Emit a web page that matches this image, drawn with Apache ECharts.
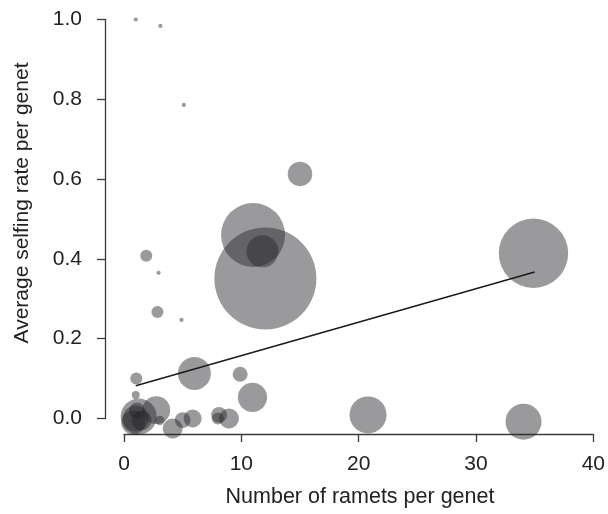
<!DOCTYPE html>
<html>
<head>
<meta charset="utf-8">
<script src="https://cdn.jsdelivr.net/npm/echarts@6/dist/echarts.min.js"></script>
<style>html,body{margin:0;padding:0;background:#fff}#c{width:608px;height:514px}</style>
</head>
<body>
<div id="c"></div>
<script>
// Number of ramets per genet
const xs = [1, 3.1, 5.1, 1.9, 2.95, 2.85, 4.9, 15.0, 11.0, 11.8, 12.05, 34.9, 20.8, 34.05, 1.05, 1.0, 2.75, 6.0, 9.9, 10.95, 5.0, 5.85, 4.15, 8.1, 8.95, 8.0, 1.25, 1.0, 0.8, 1.5, 1.1, 3.05];
// Average selfing rate per genet
const ys = [1.0, 0.984, 0.786, 0.408, 0.365, 0.267, 0.247, 0.613, 0.46, 0.419, 0.351, 0.414, 0.009, -0.008, 0.10, 0.059, 0.021, 0.113, 0.111, 0.053, -0.004, 0.0, -0.025, 0.009, 0.0, 0.0, 0.005, 0.0, -0.01, -0.005, 0.02, -0.005];
// bubble weight (sample size)
const ws = [2, 2, 2, 16, 2, 16, 2, 67, 455, 114, 1156, 535, 152, 144, 16, 7, 87, 121, 25, 95, 28, 36, 44, 28, 44, 16, 144, 75, 64, 44, 28, 10];
// fitted regression line endpoints
const fitLine = [[1, 0.082], [35, 0.367]];
const xTicks = [0, 10, 20, 30, 40];
const yTicks = [0, 0.2, 0.4, 0.6, 0.8, 1.0];

const pts = xs.map((x, i) => [x, ys[i], ws[i]]);
const FONT = 'Arial, "Liberation Sans", sans-serif';
const chart = echarts.init(document.getElementById('c'), null, {renderer: 'canvas'});
chart.setOption({
  animation: false,
  grid: {left: 124, right: 11, top: 19.5, bottom: 95.5, containLabel: false},
  xAxis: {
    type: 'value', min: xTicks[0], max: xTicks[xTicks.length - 1], interval: 10,
    offset: 15.5,
    splitLine: {show: false},
    axisLine: {show: true, onZero: false, lineStyle: {color: '#3a3a3a', width: 1.3}},
    axisTick: {show: true, length: 8, lineStyle: {color: '#3a3a3a', width: 1.3}},
    axisLabel: {margin: 20, color: '#222', fontSize: 21, fontFamily: FONT}
  },
  yAxis: {
    type: 'value', min: yTicks[0], max: yTicks[yTicks.length - 1], interval: 0.2,
    offset: 19,
    splitLine: {show: false},
    axisLine: {show: true, onZero: false, lineStyle: {color: '#3a3a3a', width: 1.3}},
    axisTick: {show: true, length: 8, lineStyle: {color: '#3a3a3a', width: 1.3}},
    axisLabel: {margin: 23, color: '#222', fontSize: 21, fontFamily: FONT,
      formatter: v => v.toFixed(1)}
  },
  graphic: [
    {type: 'text', x: 360, y: 497, style: {text: 'Number of ramets per genet', fill: '#222', font: '21.5px ' + FONT, textAlign: 'center', textVerticalAlign: 'middle'}},
    {type: 'text', rotation: Math.PI / 2, x: 22.5, y: 203, style: {text: 'Average selfing rate per genet', fill: '#222', font: '21px ' + FONT, textAlign: 'center', textVerticalAlign: 'middle'}}
  ],
  series: [
    {
      type: 'scatter', clip: false,
      data: pts,
      symbol: 'circle',
      symbolSize: d => 3 * Math.sqrt(d[2]),
      itemStyle: {color: 'rgba(37,37,40,0.58)', borderWidth: 0},
      z: 2
    },
    {
      type: 'line', data: fitLine, symbol: 'none', clip: false,
      lineStyle: {color: '#1a1a1a', width: 1.5}, z: 3
    }
  ]
});
</script>
</body>
</html>
